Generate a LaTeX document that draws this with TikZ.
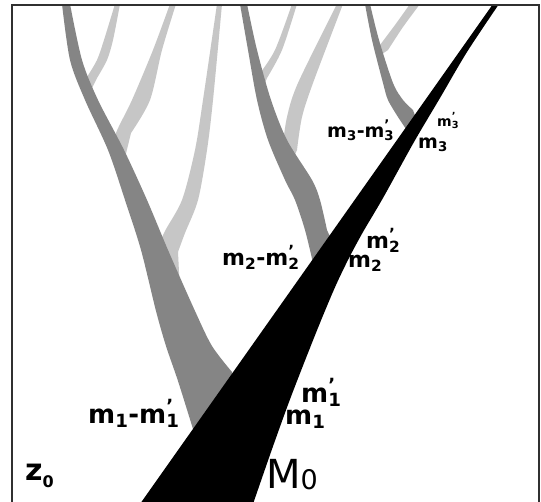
\documentclass[tikz,border=0pt]{standalone}
\usepackage{fontspec}
\setmainfont{DejaVu Sans}
\usepackage{xcolor}
\usepackage{tikz}
\definecolor{progen}{HTML}{858585}
\definecolor{minor}{HTML}{C6C6C6}
\definecolor{framegray}{HTML}{303030}
\tikzset{
  mainbr/.style ={fill=black},
  majorbr/.style={fill=progen},
  minorbr/.style={fill=minor},
  frameline/.style={draw=framegray,line width=1.4pt},
  mlab/.style   ={inner sep=0pt,anchor=base west,font=\bfseries\fontsize{26}{26}\selectfont},
  mlabmid/.style={mlab,font=\bfseries\fontsize{22}{22}\selectfont},
  mlabtop/.style={mlab,font=\bfseries\fontsize{19}{19}\selectfont},
  mlabtiny/.style={mlab,font=\bfseries\fontsize{14}{14}\selectfont}
}
\newcommand{\msub}[1]{m\textsubscript{#1}}
\newcommand{\mprime}[1]{m\rlap{\raisebox{1pt}{\textsuperscript{\textquoteright}}}\textsubscript{#1}}

\begin{document}
\begin{tikzpicture}[x=1pt,y=-1pt]
  \clip (0,0) rectangle (541,501);
  \fill[white] (0,0) rectangle (541,501);
  % minor progenitors
  \fill[minorbr] plot[smooth] coordinates {(115,4) (104,40) (97,60) (87,77)}
    -- (91,90) -- plot[smooth] coordinates {(97,78) (107,60) (113,40) (120,4)} -- cycle;
  \fill[minorbr] plot[smooth] coordinates {(170,4) (153,50) (132,100) (116,133) (113,152)}
    -- (122,170) -- plot[smooth] coordinates {(131,133) (150,100) (162,50) (176,4)} -- cycle;
  \fill[minorbr] plot[smooth] coordinates {(217,4) (203,100) (195,150) (182,200) (164,233) (157,255) (162,280)}
    -- (180,292) -- plot[smooth] coordinates {(178,252) (185,233) (198,200) (207,150) (213,100) (222,4)} -- cycle;
  \fill[minorbr] plot[smooth] coordinates {(292,4) (275,50) (258,76)}
    -- (263,88) -- plot[smooth] coordinates {(267,78) (282,50) (297,4)} -- cycle;
  \fill[minorbr] plot[smooth] coordinates {(337,4) (298,83) (287,117) (282,150) (279,160)}
    -- (289,168) -- plot[smooth] coordinates {(297,150) (302,117) (313,83) (343,4)} -- cycle;
  \fill[minorbr] plot[smooth] coordinates {(410,4) (395,25) (380,45)}
    -- (379,56) -- plot[smooth] coordinates {(388,50) (403,27) (420,4)} -- cycle;
  % major progenitors
  \fill[majorbr] plot[smooth] coordinates {(62,4) (70,60) (85,100) (108,150) (125,200) (141,250) (156,311) (166,346) (178,381) (193,429)}
    -- (240,420) -- plot[smooth] coordinates {(232,372) (212,346) (195,311) (168,250) (147,200) (124,150) (98,100) (82,60) (70,4)} -- cycle;
  \fill[majorbr] plot[smooth] coordinates {(240,4) (248,50) (257,100) (268,140) (285,180) (295,200) (305,230) (313,263)}
    -- (336,250) -- plot[smooth] coordinates {(327,230) (320,200) (312,180) (287,140) (271,100) (257,50) (247,4)} -- cycle;
  \fill[majorbr] plot[smooth] coordinates {(365,4) (372,40) (383,83) (388,100) (398,117) (406,129)}
    -- (417,121) -- plot[smooth] coordinates {(413,110) (403,100) (393,83) (379,40) (370,4)} -- cycle;
  % main branch
  \fill[mainbr] (493,4) -- (140,504)
    -- plot[smooth] coordinates {(253,504) (271,452) (289,402) (306,358) (322,318) (336,285) (349,258) (363,232) (383,198) (414,142) (440,98) (467,52) (499,4)} -- cycle;
  % frame
  \draw[frameline] (12,510) |- (539,5) -- (539,510);
  % labels
  \node[mlab] (m1diff) at (88,423) {\msub{1}-\mprime{1}};
  \node[mlab] (m1p) at (301,402) {\mprime{1}};
  \node[mlab] (m1) at (285,424) {\msub{1}};
  \node[mlabmid] (m2diff) at (222,265) {\msub{2}-\mprime{2}};
  \node[mlabmid] (m2p) at (366,248) {\mprime{2}};
  \node[mlabmid] (m2) at (348,267) {\msub{2}};
  \node[mlabtop] (m3diff) at (327,137) {\msub{3}-\mprime{3}};
  \node[mlabtiny] (m3p) at (437,126) {\mprime{3}};
  \node[mlabtop] (m3) at (418,148) {\msub{3}};
  \node[mlab,font=\bfseries\fontsize{30}{30}\selectfont] (z0) at (25,480)
    {z\raisebox{-7pt}{\fontsize{16}{16}\selectfont 0}};
  \node[mlab,font=\fontsize{40}{40}\selectfont] (M0) at (266,488)
    {M\raisebox{-1pt}{\fontsize{27}{27}\selectfont 0}};
\end{tikzpicture}
\end{document}
